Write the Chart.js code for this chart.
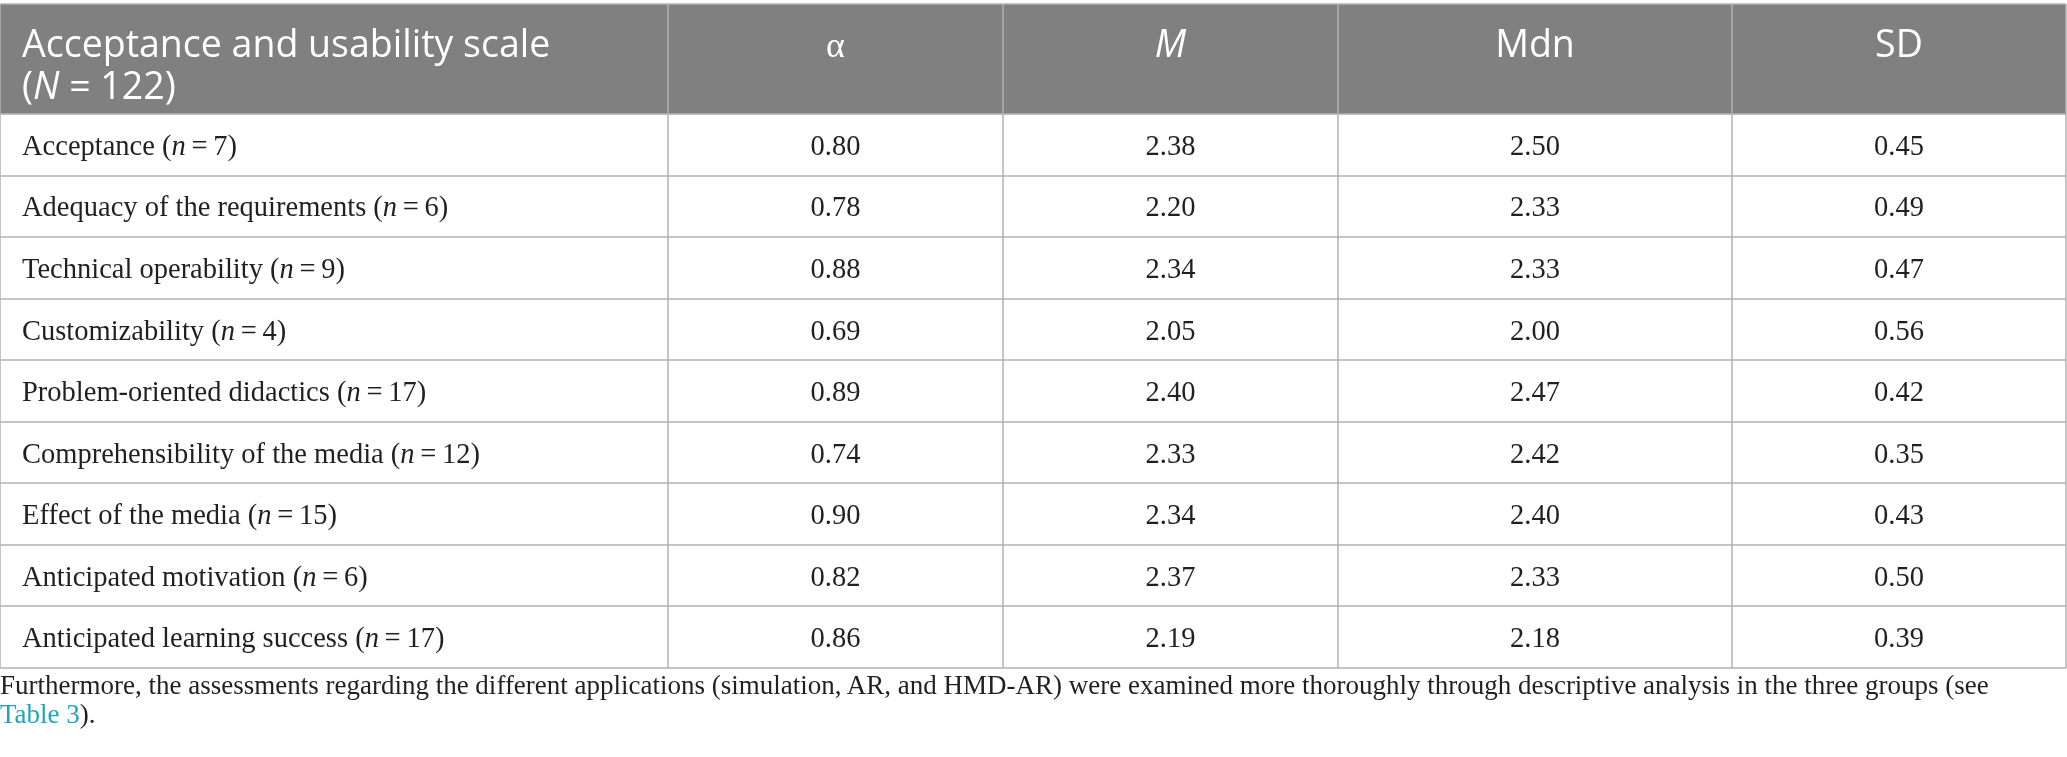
<!DOCTYPE html>
<html>
<head>
<meta charset="utf-8">
<script src="https://cdn.jsdelivr.net/npm/chart.js@4.4.0/dist/chart.umd.min.js"></script>
<style>
  html, body { margin: 0; padding: 0; background: #fff; }
  #wrap { position: relative; width: 2067px; height: 757px; overflow: hidden; }
  #caption {
    position: absolute; left: 0; top: 671px;
    font-family: "Liberation Serif", serif; font-size: 27px; line-height: 29px;
    color: #231f20; white-space: nowrap;
  }
  #caption span { color: #1fa3c4; }
</style>
</head>
<body>
<div id="wrap">
  <canvas id="table" width="2067" height="757"></canvas>
  <div id="caption">Furthermore, the assessments regarding the different applications (simulation, AR, and HMD-AR) were examined more thoroughly through descriptive analysis in the three groups (see<br><span>Table 3</span>).</div>
</div>
<script>
// Table data
const headerTitle = 'Acceptance and usability scale';
const sampleSize = 122;
const columnHeads = ['\u03b1', 'M', 'Mdn', 'SD'];
const scaleNames = [
  'Acceptance',
  'Adequacy of the requirements',
  'Technical operability',
  'Customizability',
  'Problem-oriented didactics',
  'Comprehensibility of the media',
  'Effect of the media',
  'Anticipated motivation',
  'Anticipated learning success'
];
const itemCounts = [7, 6, 9, 4, 17, 12, 15, 6, 17];
const alphaValues = [0.80, 0.78, 0.88, 0.69, 0.89, 0.74, 0.90, 0.82, 0.86];
const meanValues = [2.38, 2.20, 2.34, 2.05, 2.40, 2.33, 2.34, 2.37, 2.19];
const medianValues = [2.50, 2.33, 2.33, 2.00, 2.47, 2.42, 2.40, 2.33, 2.18];
const sdValues = [0.45, 0.49, 0.47, 0.56, 0.42, 0.35, 0.43, 0.50, 0.39];

// Layout: column edges on the x scale, header height in row units
const colEdges = [0, 668, 1003, 1338, 1732, 2066];
const headerRows = 1.79;
const rowCount = scaleNames.length;

const headFont = '"Open Sans", sans-serif';
const bodyFont = '"Liberation Serif", serif';
const textColor = '#231f20';
const lineColor = 'rgba(178,178,178,0.75)';

// Draw a run of text pieces with different fonts
function partsWidth(ctx, parts) {
  let w = 0;
  parts.forEach(p => { ctx.font = p.font; w += ctx.measureText(p.text).width; });
  return w;
}
function drawParts(ctx, parts, x, y, align) {
  let cx = align === 'center' ? x - partsWidth(ctx, parts) / 2 : x;
  ctx.textAlign = 'left';
  parts.forEach(p => {
    ctx.font = p.font;
    ctx.fillText(p.text, cx, y);
    cx += ctx.measureText(p.text).width;
  });
}

const tablePlugin = {
  id: 'tableCells',
  beforeDraw(chart) {
    // grey header band
    const { ctx, scales: { x, y } } = chart;
    const top = y.getPixelForValue(-headerRows);
    const bottom = y.getPixelForValue(0);
    ctx.save();
    ctx.fillStyle = '#808080';
    ctx.fillRect(x.left, top, x.right - x.left, bottom - top);
    ctx.restore();
  },
  afterDraw(chart) {
    const { ctx, scales: { x, y } } = chart;
    const headTop = y.getPixelForValue(-headerRows);
    const leftX = x.getPixelForValue(colEdges[0]) + 22;
    const centers = colEdges.slice(1, -1).map((e, i) =>
      (x.getPixelForValue(e) + x.getPixelForValue(colEdges[i + 2])) / 2);

    ctx.save();
    ctx.textBaseline = 'alphabetic';

    // header
    ctx.fillStyle = '#ffffff';
    const hs = '37.5px ' + headFont;
    const hsi = 'italic 37.5px ' + headFont;
    drawParts(ctx, [{ text: headerTitle, font: hs }], leftX, headTop + 53);
    drawParts(ctx, [
      { text: '(', font: hs },
      { text: 'N', font: hsi },
      { text: ' = ' + sampleSize + ')', font: hs }
    ], leftX, headTop + 95);
    const headFonts = ['36px ' + bodyFont, hsi, hs, hs];
    columnHeads.forEach((h, i) => {
      drawParts(ctx, [{ text: h, font: headFonts[i] }], centers[i], headTop + 53, 'center');
    });

    // body rows
    ctx.fillStyle = textColor;
    const bf = '28.5px ' + bodyFont;
    const bfi = 'italic 28.5px ' + bodyFont;
    const columns = [alphaValues, meanValues, medianValues, sdValues];
    scaleNames.forEach((name, r) => {
      const base = y.getPixelForValue(r + 0.5) + 10;
      drawParts(ctx, [
        { text: name + ' (', font: bf },
        { text: 'n', font: bfi },
        { text: '\u2009=\u2009' + itemCounts[r] + ')', font: bf }
      ], leftX, base);
      columns.forEach((col, c) => {
        drawParts(ctx, [{ text: col[r].toFixed(2), font: bf }], centers[c], base, 'center');
      });
    });
    ctx.restore();
  }
};

const ctx = document.getElementById('table').getContext('2d');
new Chart(ctx, {
  type: 'scatter',
  data: { datasets: [] },
  options: {
    responsive: false,
    animation: false,
    devicePixelRatio: 1,
    layout: { padding: { top: 4, bottom: 89, left: 0, right: 1 } },
    plugins: { legend: { display: false }, tooltip: { enabled: false } },
    scales: {
      x: {
        type: 'linear',
        min: colEdges[0],
        max: colEdges[colEdges.length - 1],
        afterBuildTicks: s => { s.ticks = colEdges.map(v => ({ value: v })); },
        ticks: { display: false },
        grid: { color: lineColor, lineWidth: 2, drawTicks: false },
        border: { display: false }
      },
      y: {
        type: 'linear',
        reverse: true,
        min: -headerRows,
        max: rowCount,
        afterBuildTicks: s => {
          const t = [-headerRows];
          for (let i = 0; i <= rowCount; i++) t.push(i);
          s.ticks = t.map(v => ({ value: v }));
        },
        ticks: { display: false },
        grid: { color: lineColor, lineWidth: 2, drawTicks: false },
        border: { display: false }
      }
    }
  },
  plugins: [tablePlugin]
});
</script>
</body>
</html>
